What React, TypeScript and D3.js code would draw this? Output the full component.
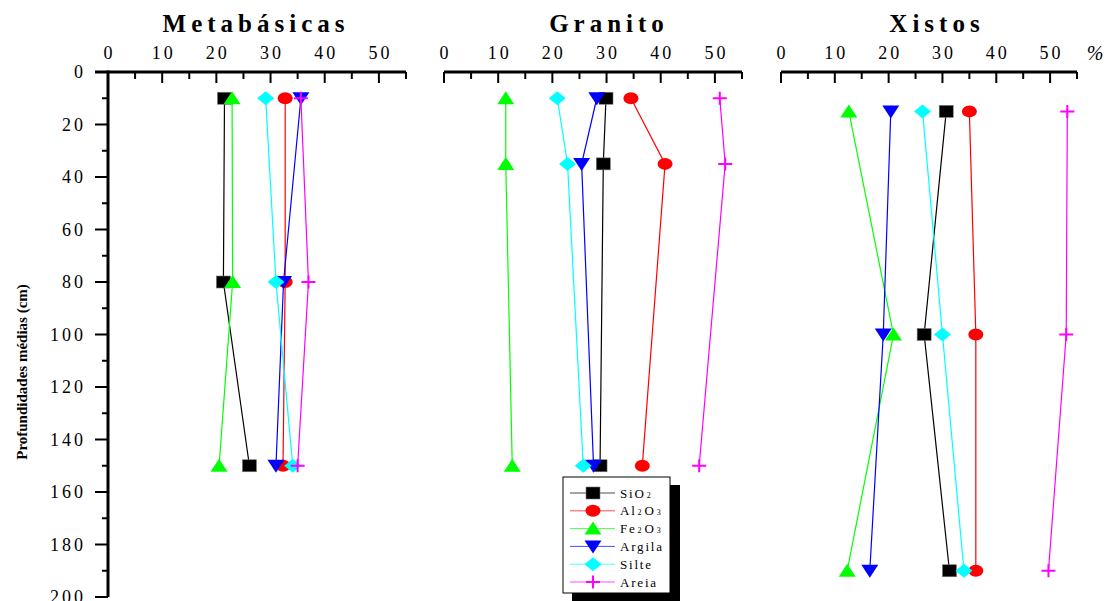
import React from "react";
import * as d3 from "d3";

// series in legend order
const seriesNames = ["SiO2", "Al2O3", "Fe2O3", "Argila", "Silte", "Areia"];
const seriesColors = ["#000000", "#ff0000", "#00ff00", "#0000ff", "#00ffff", "#ff00ff"];
const seriesShapes = ["square", "circle", "triangle", "triangleDown", "diamond", "plus"];

const panelTitles = ["Metabásicas", "Granito", "Xistos"];
const xTicks = [0, 10, 20, 30, 40, 50];
const yTicks = [0, 20, 40, 60, 80, 100, 120, 140, 160, 180, 200];

// Metabásicas
const metaDepths = [10, 80, 150];
const metaSiO2 = [21.5, 21.3, 26.1];
const metaAl2O3 = [32.7, 32.7, 32.3];
const metaFe2O3 = [22.9, 23.0, 20.5];
const metaArgila = [35.6, 32.4, 31.0];
const metaSilte = [29.1, 31.0, 34.1];
const metaAreia = [35.6, 37.0, 35.0];

// Granito
const granDepths = [10, 35, 150];
const granSiO2 = [29.9, 29.4, 28.8];
const granAl2O3 = [34.5, 40.8, 36.6];
const granFe2O3 = [11.4, 11.4, 12.6];
const granArgila = [28.2, 25.4, 27.6];
const granSilte = [20.9, 22.8, 25.7];
const granAreia = [50.9, 51.9, 47.1];

// Xistos
const xistDepths = [15, 100, 190];
const xistSiO2 = [30.7, 26.6, 31.3];
const xistAl2O3 = [35.0, 36.2, 36.2];
const xistFe2O3 = [12.6, 20.9, 12.3];
const xistArgila = [20.4, 19.0, 16.5];
const xistSilte = [26.3, 30.0, 34.0];
const xistAreia = [53.2, 53.0, 49.7];

const panelDepths = [metaDepths, granDepths, xistDepths];
const panelValues = [
  [metaSiO2, metaAl2O3, metaFe2O3, metaArgila, metaSilte, metaAreia],
  [granSiO2, granAl2O3, granFe2O3, granArgila, granSilte, granAreia],
  [xistSiO2, xistAl2O3, xistFe2O3, xistArgila, xistSilte, xistAreia],
];

const W = 1107;
const H = 601;
const FONT = "Liberation Serif";

const panelRanges = [
  [108, 406],
  [444, 742],
  [781, 1077],
];
const titleX = [256, 609, 937];

const y = d3.scaleLinear().domain([0, 200]).range([72, 597]);

function Marker({ shape, cx, cy, color }) {
  if (shape === "square")
    return <rect x={cx - 7} y={cy - 6} width={14} height={12} fill={color} stroke="#777" strokeWidth={0.6} />;
  if (shape === "circle") return <ellipse cx={cx} cy={cy} rx={7.5} ry={6} fill={color} />;
  if (shape === "triangle")
    return <path d={`M${cx},${cy - 7}L${cx + 8.5},${cy + 6}L${cx - 8.5},${cy + 6}Z`} fill={color} />;
  if (shape === "triangleDown")
    return <path d={`M${cx - 8.5},${cy - 6}L${cx + 8.5},${cy - 6}L${cx},${cy + 7}Z`} fill={color} />;
  if (shape === "diamond")
    return <path d={`M${cx},${cy - 7}L${cx + 8.5},${cy}L${cx},${cy + 7}L${cx - 8.5},${cy}Z`} fill={color} />;
  return (
    <path d={`M${cx - 7},${cy}H${cx + 7}M${cx},${cy - 6.5}V${cy + 6.5}`} stroke={color} strokeWidth={2} fill="none" />
  );
}

function Panel({ idx }) {
  const [x0, x1] = panelRanges[idx];
  const x = d3.scaleLinear().domain([0, 55]).range([x0, x1]);
  const depths = panelDepths[idx];
  const minor = d3.range(5, 56, 10);
  const line = d3
    .line<number>()
    .x((v) => x(v))
    .y((_, i) => y(depths[i]));
  return (
    <g>
      <text
        x={titleX[idx]}
        y={32}
        textAnchor="middle"
        style={{ fontFamily: FONT, fontWeight: "bold", fontSize: 25, letterSpacing: 5 }}
      >
        {panelTitles[idx]}
      </text>
      <line x1={idx === 0 ? 95 : x0} x2={x1} y1={y(0)} y2={y(0)} stroke="#000" strokeWidth={3} />
      {xTicks.map((t) => (
        <g key={t}>
          <line x1={x(t)} x2={x(t)} y1={y(0)} y2={y(0) + 11} stroke="#000" strokeWidth={2} />
          <text
            x={x(t) + 1.5}
            y={59}
            textAnchor="middle"
            style={{ fontFamily: FONT, fontSize: 18, letterSpacing: 3 }}
          >
            {t}
          </text>
        </g>
      ))}
      {minor.map((t) => (
        <line key={t} x1={x(t)} x2={x(t)} y1={y(0)} y2={y(0) + 7} stroke="#000" strokeWidth={2} />
      ))}
      {panelValues[idx].map((vals, s) => (
        <g key={s}>
          <path d={line(vals) || ""} fill="none" stroke={seriesColors[s]} strokeWidth={1.2} />
          {vals.map((v, i) => (
            <Marker key={i} shape={seriesShapes[s]} cx={x(v)} cy={y(depths[i])} color={seriesColors[s]} />
          ))}
        </g>
      ))}
    </g>
  );
}

function Label({ name }) {
  // chemical formulas with small subscripts
  const parts = name.match(/[A-Za-z]+|\d+/g) || [name];
  return (
    <>
      {parts.map((p, i) =>
        /\d/.test(p) ? (
          <tspan key={i} style={{ fontSize: 8 }} dx={1}>
            {p}
          </tspan>
        ) : (
          <tspan key={i} dx={i > 0 ? 1 : 0}>
            {p}
          </tspan>
        )
      )}
    </>
  );
}

export default function App() {
  const yMinor = d3.range(10, 200, 20);
  const lx = 563;
  const ly = 477;
  return (
    <svg
      width={W}
      height={H}
      style={{ position: "absolute", left: 0, top: 0, background: "#fff", display: "block" }}
    >
      <rect width={W} height={H} fill="#fff" />
      {/* y axis */}
      <line x1={108} x2={108} y1={y(0) - 1.5} y2={y(200)} stroke="#000" strokeWidth={3} />
      {yTicks.map((t) => (
        <g key={t}>
          <line x1={95} x2={108} y1={y(t)} y2={y(t)} stroke="#000" strokeWidth={2} />
          <text
            x={86}
            y={y(t)}
            dy="0.35em"
            textAnchor="end"
            style={{ fontFamily: FONT, fontSize: 18, letterSpacing: 3 }}
          >
            {t}
          </text>
        </g>
      ))}
      {yMinor.map((t) => (
        <line key={t} x1={102} x2={108} y1={y(t)} y2={y(t)} stroke="#000" strokeWidth={2} />
      ))}
      <text
        transform={`translate(27,372) rotate(-90)`}
        textAnchor="middle"
        style={{ fontFamily: FONT, fontWeight: "bold", fontSize: 15 }}
      >
        Profundidades médias (cm)
      </text>
      {[0, 1, 2].map((i) => (
        <Panel key={i} idx={i} />
      ))}
      <text x={1095} y={60} textAnchor="middle" style={{ fontFamily: FONT, fontSize: 20, fontStyle: "italic" }}>
        %
      </text>
      {/* legend */}
      <rect x={lx + 9} y={ly + 8} width={108} height={116} fill="#000" />
      <rect x={lx} y={ly} width={107} height={116} fill="#fff" stroke="#000" strokeWidth={1} />
      {seriesNames.map((n, i) => {
        const ry = ly + 16 + i * 17.8;
        return (
          <g key={n}>
            <line x1={lx + 7} x2={lx + 52} y1={ry} y2={ry} stroke={seriesColors[i]} strokeWidth={1} opacity={0.7} />
            <Marker shape={seriesShapes[i]} cx={lx + 30} cy={ry} color={seriesColors[i]} />
            <text x={lx + 57} y={ry + 4.5} style={{ fontFamily: FONT, fontSize: 13, letterSpacing: 1.8 }}>
              <Label name={n} />
            </text>
          </g>
        );
      })}
    </svg>
  );
}
